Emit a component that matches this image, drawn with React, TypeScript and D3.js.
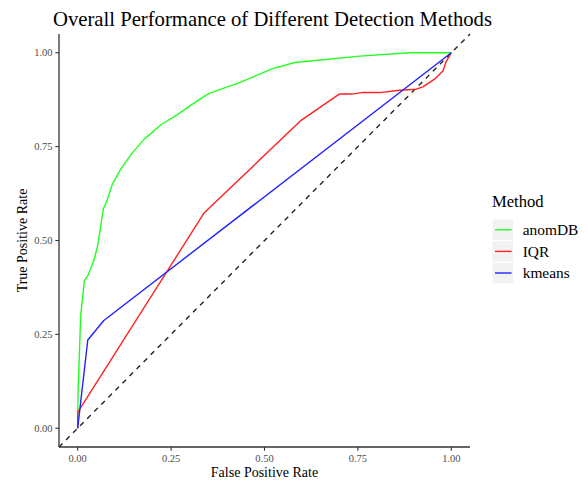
import React from "react";
import * as d3 from "d3";

// ROC curves for each detection method (false positive rate, true positive rate)
const methods = ["anomDB", "IQR", "kmeans"];
const methodColors = ["#22ff22", "#ff2222", "#2222ff"];

const anomDBFpr = [0, 0.001, 0.004, 0.008, 0.018, 0.028, 0.043, 0.053, 0.06, 0.069, 0.076, 0.092, 0.114, 0.145, 0.178, 0.224, 0.265, 0.326, 0.352, 0.435, 0.52, 0.581, 0.755, 0.888, 1];
const anomDBTpr = [0, 0.1, 0.18, 0.3, 0.393, 0.408, 0.446, 0.484, 0.528, 0.586, 0.599, 0.648, 0.688, 0.732, 0.77, 0.809, 0.834, 0.876, 0.892, 0.921, 0.957, 0.974, 0.991, 1.0, 1];

const iqrFpr = [0, 0, 0.338, 0.598, 0.7, 0.733, 0.76, 0.808, 0.862, 0.906, 0.924, 0.958, 0.978, 0.985, 1];
const iqrTpr = [0, 0.042, 0.573, 0.82, 0.89, 0.89, 0.894, 0.894, 0.9, 0.903, 0.909, 0.932, 0.952, 0.974, 1];

const kmeansFpr = [0, 0.027, 0.07, 1];
const kmeansTpr = [0, 0.235, 0.287, 1];

const tickValues = [0, 0.25, 0.5, 0.75, 1];
const tickLabels = ["0.00", "0.25", "0.50", "0.75", "1.00"];

const serif = "'Liberation Serif', 'DejaVu Serif', serif";

export default function App() {
  const width = 588;
  const height = 482;
  const panel = { left: 59, right: 470, top: 34, bottom: 447 };

  const x = d3.scaleLinear().domain([-0.05, 1.05]).range([panel.left, panel.right]);
  const y = d3.scaleLinear().domain([-0.05, 1.05]).range([panel.bottom, panel.top]);

  const line = d3
    .line<[number, number]>()
    .x((d) => x(d[0]))
    .y((d) => y(d[1]));

  const series: [number, number][][] = [
    anomDBFpr.map((v, i) => [v, anomDBTpr[i]]),
    iqrFpr.map((v, i) => [v, iqrTpr[i]]),
    kmeansFpr.map((v, i) => [v, kmeansTpr[i]]),
  ];

  const axisColor = "#333333";
  const tickColor = "#4d4d4d";

  const legendX = 492;
  const keySize = 21.6;
  const keyTop = 219;

  return (
    <svg width={width} height={height} style={{ position: "absolute", left: 0, top: 0, background: "#fff" }}>
      <rect x={0} y={0} width={width} height={height} fill="#fff" />

      <text x={272.5} y={25.5} textAnchor="middle" fontFamily={serif} fontSize={20.7} fill="#000">
        Overall Performance of Different Detection Methods
      </text>

      {/* reference diagonal */}
      <line
        x1={x(-0.05)}
        y1={y(-0.05)}
        x2={x(1.05)}
        y2={y(1.05)}
        stroke="#222"
        strokeWidth={1.4}
        strokeDasharray="5,5"
      />

      {series.map((pts, i) => (
        <path key={methods[i]} d={line(pts) || ""} fill="none" stroke={methodColors[i]} strokeWidth={1.4} strokeLinejoin="round" />
      ))}

      {/* axes */}
      <line x1={panel.left} y1={panel.top} x2={panel.left} y2={panel.bottom} stroke={axisColor} strokeWidth={1.3} />
      <line x1={panel.left} y1={panel.bottom} x2={panel.right} y2={panel.bottom} stroke={axisColor} strokeWidth={1.3} />

      {tickValues.map((t, i) => (
        <g key={"y" + t}>
          <line x1={panel.left - 3.7} x2={panel.left} y1={y(t)} y2={y(t)} stroke={axisColor} strokeWidth={1.1} />
          <text x={panel.left - 6.5} y={y(t) + 3.7} textAnchor="end" fontFamily={serif} fontSize={10.5} fill={tickColor}>
            {tickLabels[i]}
          </text>
        </g>
      ))}
      {tickValues.map((t, i) => (
        <g key={"x" + t}>
          <line x1={x(t)} x2={x(t)} y1={panel.bottom} y2={panel.bottom + 3.7} stroke={axisColor} strokeWidth={1.1} />
          <text x={x(t)} y={panel.bottom + 15} textAnchor="middle" fontFamily={serif} fontSize={10.5} fill={tickColor}>
            {tickLabels[i]}
          </text>
        </g>
      ))}

      <text x={(panel.left + panel.right) / 2} y={476.5} textAnchor="middle" fontFamily={serif} fontSize={14} fill="#000">
        False Positive Rate
      </text>
      <text
        transform={`translate(27,${(panel.top + panel.bottom) / 2}) rotate(-90)`}
        textAnchor="middle"
        fontFamily={serif}
        fontSize={14}
        fill="#000"
      >
        True Positive Rate
      </text>

      {/* legend */}
      <text x={legendX} y={207} fontFamily={serif} fontSize={16.6} fill="#000">
        Method
      </text>
      {methods.map((m, i) => {
        const top = keyTop + i * keySize;
        return (
          <g key={"leg" + m}>
            <rect x={legendX} y={top} width={keySize} height={keySize} fill="#f2f2f2" stroke="#fff" strokeWidth={1} />
            <line
              x1={legendX + 3}
              x2={legendX + keySize - 2}
              y1={top + keySize / 2}
              y2={top + keySize / 2}
              stroke={methodColors[i]}
              strokeWidth={1.4}
            />
            <text x={522.7} y={top + keySize / 2 + 5.2} fontFamily={serif} fontSize={15.4} fill="#000">
              {m}
            </text>
          </g>
        );
      })}
    </svg>
  );
}
